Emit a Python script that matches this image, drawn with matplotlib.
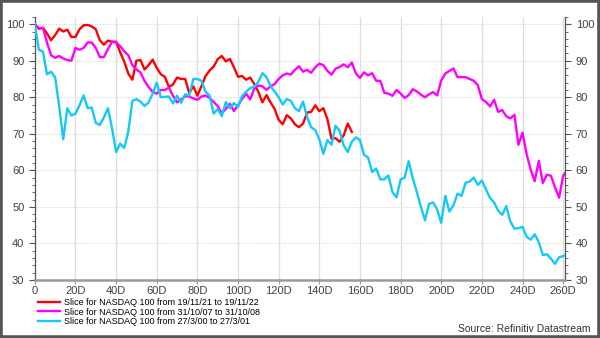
import numpy as np
import matplotlib.pyplot as plt
from matplotlib.patches import Rectangle
from matplotlib.ticker import MultipleLocator

plt.rcParams['font.family'] = ['Liberation Sans', 'DejaVu Sans']

# rebased to 100, sampled every 2 trading days
red_vals = [100, 98.8, 99, 97.5, 95.6, 97, 98.8, 98, 98.5, 96.5,
            96.5, 98.6, 99.7, 99.8, 99.4, 98.6, 95.6, 94.4, 95.5, 95.2,
            95.2, 92.3, 89.8, 86.5, 84.8, 90, 90.2, 87.6, 88.8, 90.3,
            88, 86.3, 85.6, 82.8, 83.5, 85.4, 85, 85, 81.2, 83,
            80.4, 83, 85.8, 87.3, 88.4, 90.4, 91.3, 89.8, 90.5, 88.2,
            85.6, 85.8, 84.8, 85.4, 83.6, 81.5, 78.6, 80.6, 78.6, 76.8,
            73.8, 72.6, 75.1, 74.2, 72.6, 71.8, 72.8, 75.8, 76, 77.8,
            76.2, 77, 74, 68.6, 68.8, 67.8, 69.6, 72.8, 70.5]

magenta_vals = [100, 98.8, 99, 95, 91.5, 90.8, 91.3, 90.6, 90.2, 90,
                93.5, 93, 93.5, 95, 95, 93.5, 91, 91, 93.2, 95.2,
                95, 94, 92.6, 91.5, 88.8, 87.6, 86.8, 84.5, 82.8, 81.5,
                81, 82, 82, 82.6, 80.4, 78.6, 79.4, 80.3, 80.2, 79.7,
                79.3, 80.2, 80.5, 79.8, 78.7, 77.6, 75.6, 76.8, 78.2, 76.2,
                77.8, 79.5, 81, 79.4, 82.4, 83.2, 83, 82, 83, 83.6,
                85, 86, 86.5, 86.2, 87.5, 88.5, 87, 87.5, 86.7, 88.2,
                89.2, 88.8, 87.2, 86.2, 87.8, 88.3, 89, 88.2, 89.5, 86.5,
                85.3, 86.8, 86, 86.6, 84.5, 84.5, 81.2, 81, 80.4, 82,
                81, 79.8, 80.6, 82.2, 81.6, 80.7, 80, 80.8, 81.4, 80.5,
                84.6, 86.5, 87.2, 87.9, 85.5, 85.5, 85.5, 85, 84.5, 83.3,
                79.5, 78.7, 77.5, 79.3, 76, 76.5, 74.8, 74.2, 75.2, 67,
                70.3, 64.5, 60.2, 57, 62.6, 56.5, 58.8, 58.5, 55.3, 52.5,
                58.5, 60]

cyan_vals = [100, 93, 92.5, 86.3, 87, 85.5, 77.5, 68.5, 77, 75,
             75.5, 77.8, 80.5, 77, 77.2, 73, 72.4, 74.5, 77, 71.5,
             65, 67.3, 66.1, 70.6, 79, 79.5, 78.8, 77.6, 78.6, 81,
             84, 80, 80.1, 80.2, 78.3, 80.4, 78.5, 80.8, 80.5, 85,
             85, 84.5, 81.5, 80.5, 75.5, 76.8, 74.8, 78.7, 77, 78.4,
             77.3, 80.3, 81.5, 82.5, 82.9, 84.2, 86.6, 85.5, 83, 81.6,
             80, 78, 79.5, 79, 77, 76.2, 78.8, 74.5, 71.8, 71,
             68.5, 64.5, 68.3, 67, 72.2, 70.8, 66.8, 65, 67.8, 69,
             68.3, 64.2, 63.5, 59.5, 60.5, 57.5, 57.5, 58.6, 54, 52.6,
             57.5, 58, 62.5, 57.8, 54, 50, 46.3, 50.8, 51.2, 49.3,
             45.6, 53, 48.7, 50.4, 53.6, 53, 56.6, 56.9, 58, 56,
             57.2, 54.8, 52.4, 51.2, 49, 47.8, 50.2, 46, 44, 44.2,
             44.5, 41.8, 41, 42.5, 40.3, 36.8, 37, 35.8, 34.4, 36.2,
             36.5, 37]

labels = ['Slice for NASDAQ 100 from 19/11/21 to 19/11/22',
          'Slice for NASDAQ 100 from 31/10/07 to 31/10/08',
          'Slice for NASDAQ 100 from 27/3/00 to 27/3/01']
colors = ['#ff0000', '#ff00ff', '#14c8f8']
xticks = list(range(0, 261, 20))
xtick_labels = ['0'] + ['%dD' % t for t in xticks[1:]]


def make_plot():
    fig = plt.figure(figsize=(6, 3.38), dpi=100)
    ax = fig.add_axes([0.058, 0.172, 0.884, 0.778])

    series = [red_vals, magenta_vals, cyan_vals]
    for vals, col, lab in zip(series, colors, labels):
        days = np.arange(len(vals)) * 2
        ax.plot(days, vals, color=col, lw=1.7, label=lab, zorder=3)

    ax.set_xlim(0, 261)
    ax.set_ylim(30, 102)

    ax.set_xticks(xticks)
    ax.set_xticklabels(xtick_labels)
    ax.yaxis.set_major_locator(MultipleLocator(10))
    ax.yaxis.set_minor_locator(MultipleLocator(2))

    ax.grid(axis='x', color='#dedede', lw=0.9, ls='-')
    ax.grid(axis='y', color='#d0d0d0', lw=0.7, ls=':')

    ax.spines['top'].set_visible(False)
    for s in ['left', 'right']:
        ax.spines[s].set_color('#555555')
        ax.spines[s].set_linewidth(0.9)
    ax.spines['bottom'].set_color('#9a9a9a')
    ax.spines['bottom'].set_linewidth(1.8)

    ax.tick_params(axis='y', which='both', left=True, right=True,
                   labelleft=True, labelright=True, direction='out',
                   color='#555555', labelsize=8, labelcolor='#404040')
    ax.tick_params(axis='y', which='major', length=4)
    ax.tick_params(axis='y', which='minor', length=2)
    ax.tick_params(axis='x', length=3, color='#9a9a9a', labelsize=8,
                   labelcolor='#404040', pad=1.5)

    fig.legend(loc='upper left', bbox_to_anchor=(0.063, 0.118), frameon=False,
               fontsize=6.5, labelspacing=0.05, handlelength=2.5,
               handletextpad=0.4, borderaxespad=0, borderpad=0)

    fig.text(0.985, 0.012, 'Source: Refinitiv Datastream', ha='right',
             va='bottom', fontsize=7.5, color='#333333')

    fig.patches.append(Rectangle((0, 0), 1, 1, transform=fig.transFigure,
                                 fill=False, edgecolor='#555555', lw=4))

    fig.savefig('out.png', dpi=100)


if __name__ == '__main__':
    make_plot()
